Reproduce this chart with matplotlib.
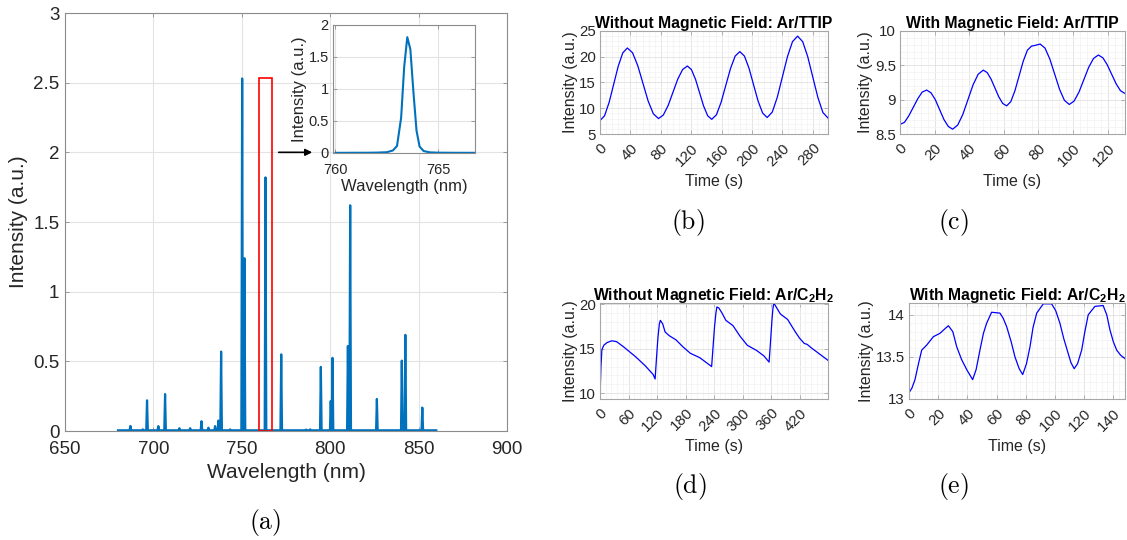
import numpy as np
import matplotlib as mpl
mpl.use('Agg')
import matplotlib.pyplot as plt
from matplotlib.patches import Rectangle
from matplotlib.ticker import AutoMinorLocator, FormatStrFormatter

# (a) emission spectrum: line positions (nm) and peak intensities (a.u.)
peak_wl = [687.0, 694.0, 696.4, 702.8, 706.6, 714.7, 720.8, 727.2, 731.1, 734.9,
           736.8, 738.3, 743.4, 750.2, 751.5, 763.4, 772.3, 786.4, 788.7, 794.7,
           800.3, 801.3, 810.0, 811.3, 826.4, 840.5, 842.5, 852.1]
peak_h = [0.036, 0.012, 0.22, 0.035, 0.265, 0.02, 0.02, 0.07, 0.024, 0.035,
          0.075, 0.57, 0.012, 2.53, 1.24, 1.82, 0.55, 0.01, 0.012, 0.46,
          0.215, 0.525, 0.61, 1.62, 0.23, 0.505, 0.69, 0.168]
spec_start, spec_end = 680.0, 860.0
baseline = 0.005

# inset: zoom on the 763 nm line
inset_wl = [760.0, 760.5, 761.0, 761.5, 762.0, 762.5, 762.8, 763.0, 763.2, 763.35,
            763.5, 763.65, 763.8, 763.95, 764.1, 764.3, 764.6, 765.0, 765.5, 766.0,
            766.5, 766.8]
inset_int = [0.003, 0.003, 0.004, 0.004, 0.006, 0.012, 0.04, 0.11, 0.55, 1.35,
             1.81, 1.62, 0.95, 0.35, 0.1, 0.03, 0.01, 0.005, 0.004, 0.003,
             0.003, 0.003]

# (b) without field, Ar/TTIP
t_b = [0, 6, 12, 18, 24, 30, 36, 42.8, 49.7, 56.5, 63.3, 70.2, 77, 83.3, 89.7, 96,
       102.3, 108.7, 115, 120.3, 125.7, 131, 136.3, 141.7, 147, 153.2, 159.3, 165.5,
       171.7, 177.8, 184, 190, 196, 202, 208, 214, 220, 226.7, 233.3, 240, 246.7,
       253.3, 260, 266.7, 273.3, 280, 286.7, 293.3, 300]
i_b = [7.6, 8.54, 11.13, 14.65, 18.18, 20.76, 21.7, 20.78, 18.27, 14.85, 11.42, 8.92,
       8.0, 8.68, 10.55, 13.1, 15.65, 17.52, 18.2, 17.51, 15.61, 13.03, 10.44, 8.54,
       7.85, 8.73, 11.14, 14.43, 17.71, 20.12, 21.0, 20.14, 17.8, 14.6, 11.4, 9.06,
       8.2, 9.26, 12.15, 16.1, 20.05, 22.94, 24.0, 22.93, 20.03, 16.05, 12.08, 9.17, 8.1]

# (c) with field, Ar/TTIP
t_c = [0, 2.6, 5.1, 7.7, 10.3, 12.8, 15.4, 17.9, 20.4, 22.9, 25.4, 27.9, 30.4, 33.35,
       36.3, 39.25, 42.2, 45.15, 48.1, 50.35, 52.6, 54.85, 57.1, 59.35, 61.6, 64, 66.4,
       68.8, 71.2, 73.6, 76, 78, 81, 83.8, 86.6, 89.4, 92.2, 95, 97.8, 100.6, 103.4,
       106.2, 109, 111.8, 114.6, 117.2, 119.7, 122.3, 124.9, 127.4, 130]
i_c = [8.64, 8.67, 8.765, 8.89, 9.015, 9.11, 9.14, 9.10, 9.0, 8.855, 8.71, 8.61, 8.57,
       8.63, 8.785, 9.0, 9.215, 9.37, 9.43, 9.395, 9.30, 9.17, 9.04, 8.945, 8.91, 8.97,
       9.13, 9.345, 9.56, 9.72, 9.78, 9.79, 9.81, 9.75, 9.59, 9.37, 9.15, 8.99, 8.93,
       8.98, 9.11, 9.29, 9.47, 9.60, 9.65, 9.61, 9.51, 9.37, 9.23, 9.13, 9.09]

# (d) without field, Ar/C2H2
t_d = [0, 2, 4, 8, 15, 25, 35, 50, 75, 95, 112, 116, 119, 122, 125, 127, 132, 137,
       145, 160, 175, 190, 210, 225, 235, 238, 241, 244, 246, 250, 256, 265, 280, 295,
       310, 330, 345, 356, 359, 362, 364, 366, 372, 380, 395, 410, 420, 430, 436, 445,
       460, 480]
i_d = [9.4, 13.0, 14.9, 15.4, 15.7, 15.9, 15.8, 15.2, 14.1, 13.1, 12.1, 11.6, 14.0,
       16.3, 17.8, 18.2, 17.8, 16.9, 16.5, 16.0, 15.2, 14.5, 14.0, 13.4, 13.0, 15.2,
       17.4, 19.0, 19.7, 19.6, 19.1, 18.2, 17.6, 16.4, 15.4, 14.8, 14.2, 13.5, 15.8,
       18.2, 19.5, 20.15, 19.6, 18.9, 18.3, 17.0, 16.2, 15.6, 15.5, 15.1, 14.5, 13.7]

# (e) with field, Ar/C2H2
t_e = [0, 2, 4.1, 6.5, 8.7, 12.1, 16.7, 21.2, 25, 27, 30, 32.7, 36, 39.5, 43.6, 46,
       48.6, 51, 53.2, 56.6, 62.3, 64.5, 66.9, 70, 72.6, 75.5, 77.9, 80.5, 82.9, 85,
       87.5, 92, 97.7, 100.5, 103.4, 106, 108.4, 111, 113.2, 115.5, 118.3, 120.5,
       122.8, 127.4, 133, 135.5, 137.7, 140, 142.3, 145, 148]
i_e = [13.075, 13.13, 13.23, 13.42, 13.58, 13.64, 13.74, 13.78, 13.84, 13.87, 13.80,
       13.62, 13.47, 13.35, 13.23, 13.35, 13.58, 13.78, 13.90, 14.03, 14.02, 13.96,
       13.86, 13.68, 13.50, 13.36, 13.29, 13.42, 13.62, 13.85, 14.02, 14.13, 14.13,
       14.05, 13.90, 13.72, 13.58, 13.43, 13.36, 13.42, 13.58, 13.80, 14.0, 14.10,
       14.11, 14.0, 13.82, 13.68, 13.58, 13.52, 13.48]

W, H = 1127.0, 540.0
TXT = '#262626'


def box(left, top, right, bottom):
    # pixel box -> figure fraction
    return [left / W, 1 - bottom / H, (right - left) / W, (bottom - top) / H]


def style_axes(ax, edge, tick_size):
    ax.tick_params(direction='in', top=True, right=True, length=3, width=0.6,
                   colors=TXT, labelsize=tick_size, color=edge)
    for s in ax.spines.values():
        s.set_color(edge)
        s.set_linewidth(0.8)
    ax.set_axisbelow(True)


def small_panel(ax, t, y, title, xlim, ylim, xticks, yticks):
    ax.plot(t, y, color='#0000ff', lw=0.9)
    ax.set_xlim(*xlim)
    ax.set_ylim(*ylim)
    ax.set_xticks(xticks)
    ax.set_yticks(yticks)
    ax.yaxis.set_major_formatter(FormatStrFormatter('%g'))
    style_axes(ax, '#a6a6a6', 10.8)
    ax.tick_params(axis='both', which='minor', length=0)
    ax.tick_params(axis='x', pad=5)
    ax.tick_params(axis='y', pad=3)
    ax.xaxis.set_minor_locator(AutoMinorLocator(5))
    ax.yaxis.set_minor_locator(AutoMinorLocator(5))
    ax.grid(True, which='major', color='#e1e1e1', lw=0.6)
    ax.grid(True, which='minor', color='#f2f2f2', lw=0.5)
    for lab in ax.get_xticklabels():
        lab.set_rotation(45)
        lab.set_ha('right')
        lab.set_va('top')
        lab.set_rotation_mode('anchor')
    ax.set_title(title, fontsize=11.3, fontweight='bold', pad=2)
    ax.set_xlabel('Time (s)', fontsize=11.5, color=TXT, labelpad=4)
    ax.set_ylabel('Intensity (a.u.)', fontsize=11.5, color=TXT, labelpad=1)


def main():
    plt.rcParams['font.family'] = ['Liberation Sans', 'DejaVu Sans']
    plt.rcParams['mathtext.fontset'] = 'custom'
    plt.rcParams['mathtext.rm'] = 'Liberation Sans'
    plt.rcParams['mathtext.bf'] = 'Liberation Sans:bold'

    fig = plt.figure(figsize=(W / 100, H / 100), dpi=100)

    # spectrum as thin triangles on a flat baseline
    hw = 0.45
    xs = [spec_start]
    ys = [baseline]
    for c, h in sorted(zip(peak_wl, peak_h)):
        xs += [c - hw, c, c + hw]
        ys += [baseline, h, baseline]
    xs.append(spec_end)
    ys.append(baseline)

    ax = fig.add_axes(box(65, 13, 507, 431))
    ax.plot(xs, ys, color='#0072BD', lw=1.6)
    ax.set_xlim(650, 900)
    ax.set_ylim(0, 3)
    ax.set_xticks(np.arange(650, 901, 50))
    ax.set_yticks(np.arange(0, 3.01, 0.5))
    ax.yaxis.set_major_formatter(FormatStrFormatter('%g'))
    style_axes(ax, '#8c8c8c', 13.5)
    ax.tick_params(axis='x', pad=7)
    ax.tick_params(axis='y', pad=4)
    ax.grid(True, color='#e3e3e3', lw=0.8)
    ax.set_xlabel('Wavelength (nm)', fontsize=15, color=TXT, labelpad=4)
    ax.set_ylabel('Intensity (a.u.)', fontsize=15, color=TXT, labelpad=4)
    ax.add_patch(Rectangle((759.9, 0), 6.9, 2.53, fill=False, ec='red', lw=1.2,
                           zorder=3))
    ax.annotate('', xy=(791.4, 2.0), xytext=(769.3, 2.0),
                arrowprops=dict(arrowstyle='-|>', color='black', lw=1.2,
                                mutation_scale=10))

    ins = fig.add_axes(box(333, 25, 475, 153))
    ins.plot(inset_wl, inset_int, color='#0072BD', lw=1.5)
    ins.set_xlim(759.88, 766.8)
    ins.set_ylim(0, 2)
    ins.set_xticks([760, 765])
    ins.set_yticks([0, 0.5, 1, 1.5, 2])
    ins.yaxis.set_major_formatter(FormatStrFormatter('%g'))
    style_axes(ins, '#8c8c8c', 10.5)
    ins.tick_params(axis='x', pad=7)
    ins.tick_params(axis='y', pad=3)
    ins.grid(True, color='#e3e3e3', lw=0.8)
    ins.set_xlabel('Wavelength (nm)', fontsize=12, color=TXT, labelpad=2)
    ins.set_ylabel('Intensity (a.u.)', fontsize=12, color=TXT, labelpad=1)

    axb = fig.add_axes(box(600, 31, 828, 134))
    small_panel(axb, t_b, i_b, 'Without Magnetic Field: Ar/TTIP', (0, 300), (5, 25),
                np.arange(0, 281, 40), np.arange(5, 26, 5))
    axc = fig.add_axes(box(900, 31, 1125, 134))
    small_panel(axc, t_c, i_c, 'With Magnetic Field: Ar/TTIP', (0, 130), (8.5, 10),
                np.arange(0, 121, 20), [8.5, 9, 9.5, 10])
    axd = fig.add_axes(box(600, 303, 828, 399))
    small_panel(axd, t_d, i_d, 'Without Magnetic Field: Ar/C$_\\mathbf{2}$H$_\\mathbf{2}$',
                (0, 480), (9.35, 20.15), np.arange(0, 421, 60), [10, 15, 20])
    axe = fig.add_axes(box(909, 303, 1125, 399))
    small_panel(axe, t_e, i_e, 'With Magnetic Field: Ar/C$_\\mathbf{2}$H$_\\mathbf{2}$',
                (0, 148), (13, 14.14), np.arange(0, 141, 20), [13, 13.5, 14])

    for lab, x, y in [('(a)', 265, 523), ('(b)', 688, 223), ('(c)', 953, 223),
                      ('(d)', 690, 487), ('(e)', 953, 487)]:
        fig.text(x / W, 1 - y / H, r'$\mathrm{%s}$' % lab, math_fontfamily='cm',
                 fontsize=18.5, ha='center', va='center')

    fig.savefig('out.png', dpi=100)


if __name__ == '__main__':
    main()
